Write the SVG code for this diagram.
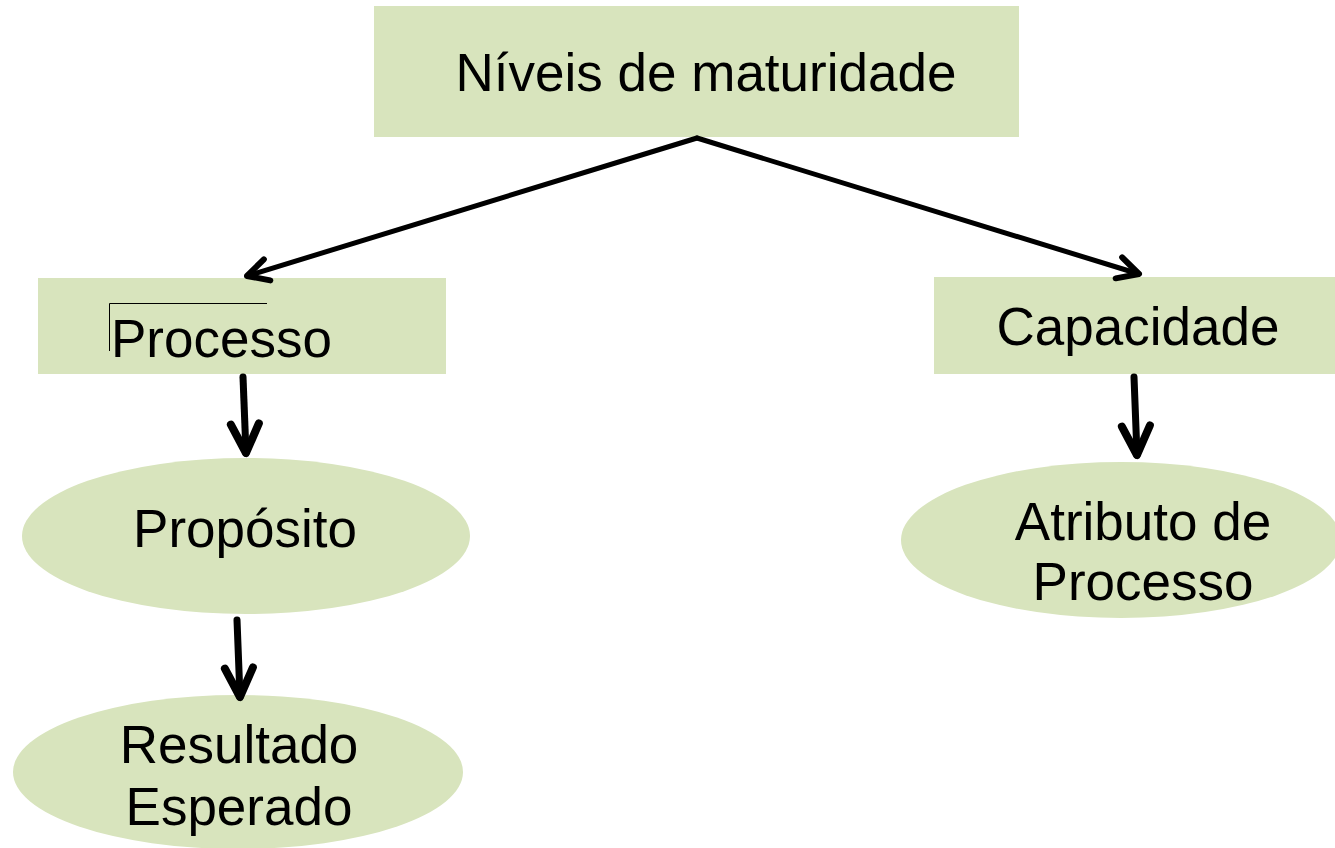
<svg xmlns="http://www.w3.org/2000/svg" width="1335" height="848" viewBox="0 0 1335 848">
<style>
.n{fill:#d8e4bd;}
.t{font-family:"Liberation Sans",Arial,sans-serif;font-size:53px;fill:#000;}
.c{stroke:#000;fill:none;stroke-linecap:round;stroke-linejoin:round;}
</style>
<defs>
<marker id="ah" markerUnits="userSpaceOnUse" markerWidth="60" markerHeight="60" refX="0" refY="0" viewBox="-30 -30 60 60" orient="auto" overflow="visible">
<path d="M-21,-11 L0,0 L-21,11" fill="none" stroke="#000" stroke-width="6" stroke-linecap="round" stroke-linejoin="round"/>
</marker>
<marker id="ahb" markerUnits="userSpaceOnUse" markerWidth="60" markerHeight="60" refX="0" refY="0" viewBox="-30 -30 60 60" orient="auto" overflow="visible">
<path d="M-29,-14 L0,0 L-29,14" fill="none" stroke="#000" stroke-width="8" stroke-linecap="round" stroke-linejoin="round"/>
</marker>
</defs>
<g id="n-niveis"><rect class="n" x="374" y="6" width="645" height="131"/><text class="t" x="706" y="91" text-anchor="middle">Níveis de maturidade</text></g>
<g id="n-processo"><rect class="n" x="38" y="278" width="408" height="96"/><text class="t" x="111" y="357">Processo</text><path d="M109.5,351 V303.5 H267" fill="none" stroke="#000" stroke-width="1"/></g>
<g id="n-capacidade"><rect class="n" x="934" y="277" width="401" height="97"/><text class="t" x="1138" y="345" text-anchor="middle">Capacidade</text></g>
<g id="n-proposito"><ellipse class="n" cx="246" cy="536" rx="224" ry="78"/><text class="t" x="245" y="547" text-anchor="middle">Propósito</text></g>
<g id="n-atributo"><ellipse class="n" cx="1121" cy="540" rx="220" ry="78"/><text class="t" x="1143" y="540" text-anchor="middle">Atributo de</text><text class="t" x="1143" y="600" text-anchor="middle">Processo</text></g>
<g id="n-resultado"><ellipse class="n" cx="238" cy="772" rx="225" ry="77"/><text class="t" x="239" y="763" text-anchor="middle">Resultado</text><text class="t" x="239" y="825" text-anchor="middle">Esperado</text></g>
<g id="connectors">
<line class="c" x1="697" y1="138" x2="247" y2="276" stroke-width="5" marker-end="url(#ah)"/>
<line class="c" x1="697" y1="138" x2="1139" y2="274" stroke-width="5" marker-end="url(#ah)"/>
<line class="c" x1="243" y1="377" x2="246" y2="453" stroke-width="7" marker-end="url(#ahb)"/>
<line class="c" x1="1134" y1="377" x2="1137" y2="455" stroke-width="7" marker-end="url(#ahb)"/>
<line class="c" x1="237" y1="620" x2="240" y2="697" stroke-width="7" marker-end="url(#ahb)"/>
</g>
</svg>
